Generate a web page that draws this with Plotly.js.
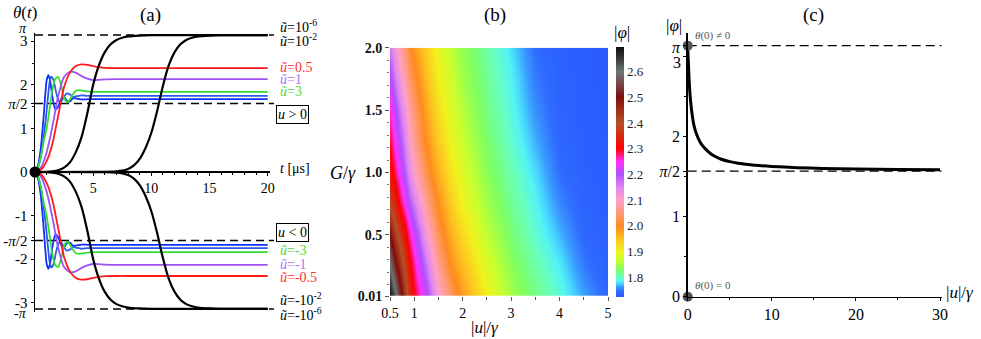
<!DOCTYPE html>
<html>
<head>
<meta charset="utf-8">
<script src="https://cdn.plot.ly/plotly-3.0.1.min.js"></script>
<style>html,body{margin:0;padding:0;background:#fff;}#chart{width:981px;height:339px;}</style>
</head>
<body>
<div id="chart"></div>
<script>
// ---------- Panel (a) data: theta(t) ----------
const tBlk2 = [0, 1, 1.5, 2, 2.5, 3, 3.5, 4, 4.5, 5, 5.5, 6, 6.5, 7, 7.5, 8, 9, 10, 12, 20];
const yBlk2 = [0, 0.005, 0.015, 0.04, 0.1, 0.22, 0.45, 0.8, 1.35, 2.0, 2.45, 2.75, 2.93, 3.03, 3.08, 3.11, 3.13, 3.138, 3.141, 3.1416];
const yBlk2n = [0, -0.005, -0.015, -0.04, -0.1, -0.22, -0.45, -0.8, -1.35, -2.0, -2.45, -2.75, -2.93, -3.03, -3.08, -3.11, -3.13, -3.138, -3.141, -3.1416];

const tBlk6 = [0, 5, 6, 7, 7.5, 8, 8.5, 9, 9.5, 10, 10.5, 11, 11.5, 12, 12.5, 13, 13.5, 14, 15, 16, 18, 20];
const yBlk6 = [0, 0.001, 0.004, 0.015, 0.03, 0.07, 0.15, 0.3, 0.55, 0.9, 1.4, 1.98, 2.45, 2.75, 2.93, 3.03, 3.08, 3.11, 3.13, 3.138, 3.141, 3.1416];
const yBlk6n = [0, -0.001, -0.004, -0.015, -0.03, -0.07, -0.15, -0.3, -0.55, -0.9, -1.4, -1.98, -2.45, -2.75, -2.93, -3.03, -3.08, -3.11, -3.13, -3.138, -3.141, -3.1416];

const tRed = [0, 0.5, 1, 1.5, 2, 2.5, 3, 3.5, 4, 4.5, 5, 5.5, 6, 7, 8, 10, 20];
const yRed = [0, 0.05, 0.25, 0.65, 1.3, 1.95, 2.28, 2.43, 2.47, 2.46, 2.43, 2.405, 2.39, 2.385, 2.385, 2.385, 2.385];
const yRedn = [0, -0.05, -0.25, -0.65, -1.3, -1.95, -2.28, -2.43, -2.47, -2.46, -2.43, -2.405, -2.39, -2.385, -2.385, -2.385, -2.385];

const tPur = [0, 0.5, 1, 1.5, 2, 2.5, 3, 3.5, 4, 4.5, 5, 5.5, 6, 7, 10, 20];
const yPur = [0, 0.1, 0.45, 1.05, 1.75, 2.18, 2.3, 2.28, 2.2, 2.14, 2.11, 2.115, 2.125, 2.13, 2.13, 2.13];
const yPurn = [0, -0.1, -0.45, -1.05, -1.75, -2.18, -2.3, -2.28, -2.2, -2.14, -2.11, -2.115, -2.125, -2.13, -2.13, -2.13];

const tGrn = [0, 0.25, 0.5, 0.75, 1, 1.25, 1.5, 1.75, 2, 2.25, 2.5, 2.75, 3, 3.25, 3.5, 3.75, 4, 4.5, 5, 6, 20];
const yGrn = [0, 0.1, 0.35, 0.7, 1.0, 1.45, 1.9, 2.14, 2.18, 1.98, 1.7, 1.6, 1.66, 1.78, 1.86, 1.88, 1.87, 1.85, 1.84, 1.84, 1.84];
const yGrnn = [0, -0.1, -0.35, -0.7, -1.0, -1.45, -1.9, -2.14, -2.18, -1.98, -1.7, -1.6, -1.66, -1.78, -1.86, -1.88, -1.87, -1.85, -1.84, -1.84, -1.84];

const tBluA = [0, 0.25, 0.5, 0.75, 1, 1.15, 1.3, 1.5, 1.75, 2, 2.25, 2.5, 2.75, 3, 3.25, 3.5, 4, 4.5, 5, 20];
const yBluA = [0, 0.15, 0.55, 1.3, 2.1, 2.22, 2.1, 1.72, 1.43, 1.5, 1.68, 1.72, 1.63, 1.62, 1.69, 1.69, 1.665, 1.67, 1.67, 1.67];
const yBluAn = [0, -0.15, -0.55, -1.3, -2.1, -2.22, -2.1, -1.72, -1.43, -1.5, -1.68, -1.72, -1.63, -1.62, -1.69, -1.69, -1.665, -1.67, -1.67, -1.67];

const tBluB = [0, 0.25, 0.5, 0.75, 1, 1.25, 1.4, 1.6, 1.8, 2, 2.2, 2.45, 2.7, 3, 3.3, 3.6, 4, 4.5, 5, 20];
const yBluB = [0, 0.1, 0.35, 0.8, 1.4, 2.05, 2.19, 2.1, 1.85, 1.65, 1.6, 1.7, 1.8, 1.78, 1.72, 1.74, 1.76, 1.745, 1.745, 1.745];
const yBluBn = [0, -0.1, -0.35, -0.8, -1.4, -2.05, -2.19, -2.1, -1.85, -1.65, -1.6, -1.7, -1.8, -1.78, -1.72, -1.74, -1.76, -1.745, -1.745, -1.745];

const aTickVals = [3, 2, 1.5708, 1, 0, -1, -1.5708, -2, -3];
const aTickText = ['3', '2', '<i>π</i>/2', '1', '0', '-1', '-<i>π</i>/2', '-2', '-3'];
const aRefLevels = [3.14159, 1.5708, -1.5708, -3.14159];

// ---------- Panel (b) data: |phi|(|u|/gamma, G/gamma) ----------
const uVals = [0.5, 0.6, 0.7, 0.8, 0.9, 1.0, 1.25, 1.5, 1.75, 2.0, 2.5, 3.0, 3.5, 4.0, 4.5, 5.0];
const gVals = [0.01, 0.25, 0.5, 0.75, 1.0, 1.25, 1.5, 1.75, 2.0];
const phiGrid = [
  [2.69, 2.62, 2.53, 2.44, 2.36, 2.30, 2.215, 2.11, 2.038, 1.98, 1.90, 1.85, 1.818, 1.792, 1.763, 1.738],
  [2.60, 2.52, 2.45, 2.38, 2.32, 2.27, 2.17, 2.07, 1.995, 1.951, 1.881, 1.836, 1.807, 1.782, 1.750, 1.733],
  [2.50, 2.43, 2.37, 2.32, 2.27, 2.225, 2.12, 2.03, 1.964, 1.922, 1.862, 1.824, 1.796, 1.768, 1.740, 1.729],
  [2.39, 2.34, 2.29, 2.245, 2.20, 2.16, 2.07, 1.995, 1.937, 1.897, 1.846, 1.814, 1.787, 1.755, 1.735, 1.726],
  [2.32, 2.28, 2.235, 2.19, 2.145, 2.105, 2.025, 1.965, 1.914, 1.882, 1.835, 1.805, 1.778, 1.745, 1.731, 1.725],
  [2.29, 2.245, 2.20, 2.155, 2.11, 2.07, 1.995, 1.94, 1.895, 1.868, 1.826, 1.797, 1.767, 1.739, 1.728, 1.724],
  [2.255, 2.21, 2.165, 2.12, 2.08, 2.045, 1.975, 1.92, 1.883, 1.856, 1.819, 1.790, 1.758, 1.735, 1.727, 1.723],
  [2.21, 2.165, 2.12, 2.08, 2.045, 2.015, 1.953, 1.903, 1.873, 1.846, 1.813, 1.785, 1.751, 1.733, 1.726, 1.723],
  [2.165, 2.12, 2.08, 2.045, 2.013, 1.985, 1.935, 1.89, 1.863, 1.839, 1.807, 1.779, 1.745, 1.730, 1.725, 1.722]
];
const cbTicks = [1.8, 1.9, 2.0, 2.1, 2.2, 2.3, 2.4, 2.5, 2.6];
const cbText = ['1.8', '1.9', '2.0', '2.1', '2.2', '2.3', '2.4', '2.5', '2.6'];
const phiColors = [
  [0.000, '#2a5bff'], [0.0226, '#2f6cff'], [0.040, '#3a9cff'], [0.0534, '#46d4ff'],
  [0.0637, '#55f4f4'], [0.079, '#66ffc0'], [0.110, '#80ff60'], [0.146, '#c4ff30'],
  [0.182, '#f2f21e'], [0.233, '#ffc020'], [0.285, '#ff8a20'], [0.336, '#ff9a78'],
  [0.388, '#ffa0c8'], [0.439, '#e088f0'], [0.490, '#b050ff'], [0.542, '#ff30ff'],
  [0.593, '#ff0000'], [0.644, '#d82810'], [0.696, '#b45028'], [0.747, '#a03018'],
  [0.798, '#800c0c'], [0.850, '#7a4444'], [0.901, '#6e7676'], [0.952, '#3a3a3a'],
  [1.000, '#0e0e0e']
];

// ---------- Panel (c) data: |phi| vs |u|/gamma ----------
const uC = [0, 0.05, 0.1, 0.2, 0.3, 0.5, 0.75, 1, 1.5, 2, 2.5, 3, 4, 5, 6, 8, 10, 13, 16, 20, 25, 30];
const phiC = [3.14, 3.0, 2.88, 2.65, 2.5, 2.3, 2.14, 2.05, 1.93, 1.86, 1.81, 1.77, 1.72, 1.69, 1.67, 1.645, 1.63, 1.615, 1.605, 1.597, 1.592, 1.588];
const dotU = [0, 0];
const dotPhi = [3.14159, 0];
const cTickVals = [0, 1, 1.5708, 2, 3, 3.14159];
const cTickText = ['0', '1', '<i>π</i>/2', '2', '', ''];
const cRefLevels = [3.14159, 1.5708];

// ---------- build ----------
const W = 981, H = 339;
const FONT = "'Liberation Serif', 'Times New Roman', serif";
const px = v => v / W;
const py = v => 1 - v / H;

function line(x, y, color, width) {
  return {type: 'scatter', mode: 'lines', x: x, y: y, xaxis: 'x', yaxis: 'y',
          line: {color: color, width: width, shape: 'spline', smoothing: 0.6},
          hoverinfo: 'skip'};
}
const RED = '#ff1a1a', PUR = '#a052f0', GRN = '#30e030', BLA = '#1030ff', BLB = '#2a5ae8';

const traces = [
  line(tBluA, yBluA, BLA, 1.8), line(tBluA, yBluAn, BLA, 1.8),
  line(tBluB, yBluB, BLB, 1.8), line(tBluB, yBluBn, BLB, 1.8),
  line(tGrn, yGrn, GRN, 1.8), line(tGrn, yGrnn, GRN, 1.8),
  line(tPur, yPur, PUR, 1.8), line(tPur, yPurn, PUR, 1.8),
  line(tRed, yRed, RED, 1.8), line(tRed, yRedn, RED, 1.8),
  line(tBlk2, yBlk2, '#000', 2.2), line(tBlk2, yBlk2n, '#000', 2.2),
  line(tBlk6, yBlk6, '#000', 2.2), line(tBlk6, yBlk6n, '#000', 2.2),
  {type: 'scatter', mode: 'markers', x: [0], y: [0], xaxis: 'x', yaxis: 'y', cliponaxis: false,
   marker: {color: '#000', size: 11}, hoverinfo: 'skip'},
  {type: 'heatmap', x: uVals, y: gVals, z: phiGrid, xaxis: 'x2', yaxis: 'y2', zsmooth: 'best',
   colorscale: phiColors, zmin: 1.723, zmax: 2.696,
   colorbar: {x: px(616), xanchor: 'left', y: py(172), yanchor: 'middle', len: 250 / H, lenmode: 'fraction',
              thickness: 8, outlinewidth: 0, xpad: 0, ypad: 0, tickmode: 'array', tickvals: cbTicks, ticktext: cbText, ticks: '',
              tickfont: {family: FONT, size: 13, color: '#222'}},
   hoverinfo: 'skip'},
  {type: 'scatter', mode: 'lines', x: uC, y: phiC, xaxis: 'x3', yaxis: 'y3',
   line: {color: '#000', width: 3, shape: 'spline', smoothing: 0.6}, hoverinfo: 'skip'},
  {type: 'scatter', mode: 'markers', x: dotU, y: dotPhi, xaxis: 'x3', yaxis: 'y3', cliponaxis: false,
   marker: {color: '#555', size: 10}, hoverinfo: 'skip'}
];

const shapes = [];
aRefLevels.forEach(v => shapes.push({type: 'line', xref: 'paper', yref: 'y', x0: px(35), x1: px(274), y0: v, y1: v,
  line: {color: '#000', width: 1.5, dash: '8px,5px'}, layer: 'below'}));
cRefLevels.forEach(v => shapes.push({type: 'line', xref: 'x3', yref: 'y3', x0: 0, x1: 30.2, y0: v, y1: v,
  line: {color: '#000', width: 1.2, dash: '9px,5px'}, layer: 'below'}));

function ann(text, x, y, size, opts) {
  return Object.assign({text: text, x: px(x), y: py(y), xref: 'paper', yref: 'paper', showarrow: false,
    xanchor: 'center', yanchor: 'middle', font: {family: FONT, size: size, color: '#000'}}, opts || {});
}
const L = {xanchor: 'left'};
const annotations = [
  ann('<i>θ</i>(<i>t</i>)', 25, 12, 17),
  ann('(a)', 150, 15, 19),
  ann('(b)', 495, 15, 19),
  ann('(c)', 813, 15, 19),
  ann('<i>π</i>', 29, 28, 14, {xanchor: 'right'}),
  ann('-<i>π</i>', 29, 313, 14, {xanchor: 'right'}),
  ann('<i>π</i>', 683, 47, 16, {xanchor: 'right'}),
  ann('3', 683, 62, 16, {xanchor: 'right'}),
  ann('<i>t</i> [μs]', 278, 168, 14, L),
  ann('<i>ũ</i>=10<sup>-6</sup>', 278, 26, 14, L),
  ann('<i>ũ</i>=10<sup>-2</sup>', 278, 40, 14, L),
  ann('<i>ũ</i>=0.5', 278, 67, 14, {xanchor: 'left', font: {family: FONT, size: 14, color: '#ff3030'}}),
  ann('<i>ũ</i>=1', 278, 79, 14, {xanchor: 'left', font: {family: FONT, size: 14, color: '#b070ee'}}),
  ann('<i>ũ</i>=3', 278, 91, 14, {xanchor: 'left', font: {family: FONT, size: 14, color: '#50dd30'}}),
  ann('<i>u</i> > 0', 276, 114, 14, {xanchor: 'left', bordercolor: '#000', borderwidth: 1, borderpad: 1}),
  ann('<i>u</i> < 0', 276, 232, 14, {xanchor: 'left', bordercolor: '#000', borderwidth: 1, borderpad: 1}),
  ann('<i>ũ</i>=-3', 278, 250, 14, {xanchor: 'left', font: {family: FONT, size: 14, color: '#50dd30'}}),
  ann('<i>ũ</i>=-1', 278, 264, 14, {xanchor: 'left', font: {family: FONT, size: 14, color: '#b070ee'}}),
  ann('<i>ũ</i>=-0.5', 278, 277, 14, {xanchor: 'left', font: {family: FONT, size: 14, color: '#ff3030'}}),
  ann('<i>ũ</i>=-10<sup>-2</sup>', 278, 299, 14, L),
  ann('<i>ũ</i>=-10<sup>-6</sup>', 278, 314, 14, L),
  ann('<i>G</i>/<i>γ</i>', 343, 173, 18),
  ann('|<i>u</i>|/<i>γ</i>', 485, 327, 17),
  ann('|<i>φ</i>|', 622, 32, 17),
  ann('|<i>φ</i>|', 674, 25, 17),
  ann('<i>θ</i>(0) ≠ 0', 693, 35, 11, {xanchor: 'left', font: {family: FONT, size: 11, color: '#555'}}),
  ann('<i>θ</i>(0) = 0', 693, 285, 11, {xanchor: 'left', font: {family: FONT, size: 11, color: '#555'}}),
  ann('|<i>u</i>|/<i>γ</i>', 944, 292, 17, L)
];

const tf = s => ({family: FONT, size: s, color: '#000'});
const layout = {
  width: W, height: H, margin: {l: 0, r: 0, t: 0, b: 0},
  paper_bgcolor: '#fff', plot_bgcolor: 'rgba(0,0,0,0)', showlegend: false,
  font: {family: FONT},
  xaxis: {domain: [px(35), px(270)], range: [0, 20.2], anchor: 'free', position: 0.4926,
          tickmode: 'array', tickvals: [5, 10, 15, 20], ticks: 'outside', ticklen: 3, tickcolor: '#000',
          showline: true, linecolor: '#000', linewidth: 2, showgrid: false, zeroline: false,
          tickfont: tf(14), minor: {tickmode: 'linear', tick0: 0, dtick: 1, ticks: 'outside', ticklen: 2, tickcolor: '#000'}},
  yaxis: {domain: [0.0811, 0.9041], range: [-3.2, 3.2], anchor: 'x',
          tickmode: 'array', tickvals: aTickVals, ticktext: aTickText, ticks: 'outside', ticklen: 3, tickcolor: '#000',
          showline: true, linecolor: '#000', linewidth: 1.5, showgrid: false, zeroline: false,
          tickfont: tf(15), minor: {tickmode: 'linear', tick0: 0, dtick: 0.5, ticks: 'outside', ticklen: 2, tickcolor: '#000'}},
  xaxis2: {domain: [px(390), px(608)], range: [0.5, 5], anchor: 'y2',
           tickmode: 'array', tickvals: [0.5, 1, 2, 3, 4, 5], ticktext: ['0.5', '1', '2', '3', '4', '5'],
           ticks: 'outside', ticklen: 4, tickcolor: '#555', showline: false, showgrid: false, zeroline: false,
           tickfont: tf(14), minor: {tickmode: 'array', tickvals: [1.5, 2.5, 3.5, 4.5], ticks: 'outside', ticklen: 3, tickcolor: '#555'}},
  yaxis2: {domain: [py(296), py(47.7)], range: [0.01, 2.0], anchor: 'x2',
           tickmode: 'array', tickvals: [0.01, 0.5, 1, 1.5, 2], ticktext: ['0.01', '0.5', '1.0', '1.5', '2.0'],
           ticks: 'outside', ticklen: 4, tickcolor: '#555', showline: false, showgrid: false, zeroline: false,
           tickfont: {family: FONT, size: 14, color: '#111', weight: 'bold'},
           minor: {tickmode: 'linear', tick0: 0, dtick: 0.1, ticks: 'outside', ticklen: 2, tickcolor: '#777'}},
  xaxis3: {domain: [px(687.7), px(941.7)], range: [0, 30.2], anchor: 'y3',
           tickmode: 'array', tickvals: [0, 10, 20, 30], ticks: 'outside', ticklen: 3, tickcolor: '#000',
           showline: true, linecolor: '#000', linewidth: 1.5, showgrid: false, zeroline: false,
           tickfont: tf(16), minor: {tickmode: 'array', tickvals: [5, 15, 25], ticks: 'outside', ticklen: 2, tickcolor: '#000'}},
  yaxis3: {domain: [py(296.7), py(33)], range: [0, 3.3], anchor: 'x3',
           tickmode: 'array', tickvals: cTickVals, ticktext: cTickText, ticks: 'outside', ticklen: 3, tickcolor: '#000',
           showline: true, linecolor: '#000', linewidth: 1.5, showgrid: false, zeroline: false,
           tickfont: tf(16), minor: {tickmode: 'array', tickvals: [0.5, 1.5, 2.5], ticks: 'outside', ticklen: 2, tickcolor: '#000'}},
  shapes: shapes,
  annotations: annotations
};

Plotly.newPlot('chart', traces, layout, {staticPlot: true, displayModeBar: false});
</script>
</body>
</html>
